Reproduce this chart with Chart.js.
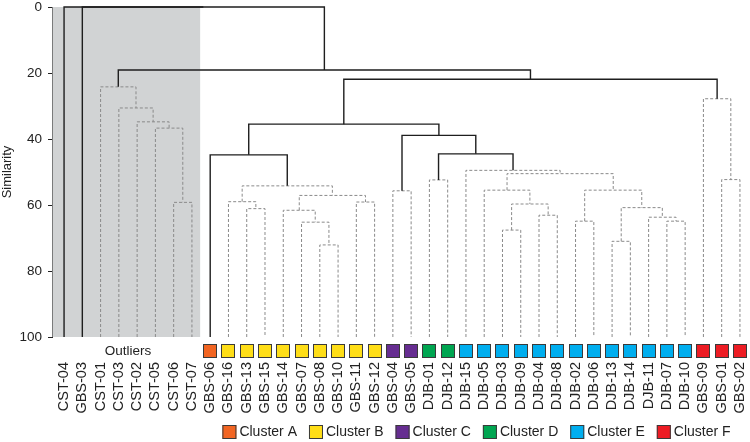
<!DOCTYPE html>
<html><head><meta charset="utf-8">
<script src="https://cdn.jsdelivr.net/npm/chart.js@4"></script>
<style>html,body{margin:0;padding:0;background:#fff;}</style>
</head><body>
<canvas id="c" width="750" height="442"></canvas>
<script>
// ---- data ----
const leafLabels = ['CST-04','GBS-03','CST-01','CST-03','CST-02','CST-05','CST-06','CST-07',
  'GBS-06','GBS-16','GBS-13','GBS-15','GBS-14','GBS-07','GBS-08','GBS-10','GBS-11','GBS-12',
  'GBS-04','GBS-05','DJB-01','DJB-12','DJB-15','DJB-05','DJB-03','DJB-09','DJB-04','DJB-08',
  'DJB-02','DJB-06','DJB-13','DJB-14','DJB-11','DJB-07','DJB-10','GBS-09','GBS-01','GBS-02'];
const leafGroups = ['O','O','O','O','O','O','O','O',
  'A','B','B','B','B','B','B','B','B','B',
  'C','C','D','D','E','E','E','E','E','E',
  'E','E','E','E','E','E','E','F','F','F'];
const clusterKeys = ['A','B','C','D','E','F'];
const clusterNames = ['Cluster A','Cluster B','Cluster C','Cluster D','Cluster E','Cluster F'];
const clusterColors = ['#f26522','#ffde17','#662d91','#00a651','#00aeef','#ed1c24'];
const outlierLabel = 'Outliers';
const axisTitle = 'Similarity';
const yTicks = [0,20,40,60,80,100];

// merges: children refer to leaf index (0..37) or node 38+k
const mergeLeft  = [6, 5,  4,  3,  2, 10, 9, 14, 13, 12, 16, 47, 44, 8, 18, 20, 24, 26, 54, 23, 28, 30, 33, 32, 59, 58, 57, 22, 53, 52, 51, 36, 35, 68, 42, 1, 0];
const mergeRight = [7, 38, 39, 40, 41, 11, 43, 15, 45, 46, 17, 48, 49, 50, 19, 21, 25, 27, 55, 56, 29, 31, 34, 60, 61, 62, 63, 64, 65, 66, 67, 37, 69, 70, 71, 72, 73];
const mergeSim   = [59.2, 36.7, 34.8, 30.6, 24.2, 61.1, 59.0, 72.1, 65.2, 61.6, 59.1, 57.1, 54.2, 44.8, 55.7, 52.4, 67.6, 63.1, 59.7, 55.5, 64.9, 71.0, 64.9, 63.7, 60.8, 55.5, 50.5, 49.5, 44.5, 38.9, 35.5, 52.3, 27.8, 21.9, 19.1, 0, 0];
const mergeSolid = [0,0,0,0,0, 0,0,0,0,0, 0,0,0,1, 0,0,0,0,0, 0,0,0,0,0, 0,0,0,0, 1,1,1, 0,0,1,1,1,1];

// ---- build tree geometry in data units ----
const nodeX = leafLabels.map((_, i) => i);
const nodeH = leafLabels.map(() => 100);
mergeLeft.forEach((a, k) => {
  const b = mergeRight[k];
  nodeX.push((nodeX[a] + nodeX[b]) / 2);
  nodeH.push(mergeSim[k]);
});
const datasets = mergeLeft.map((a, k) => {
  const b = mergeRight[k], h = mergeSim[k], solid = !!mergeSolid[k];
  return {
    data: [{x: nodeX[a], y: nodeH[a]}, {x: nodeX[a], y: h}, {x: nodeX[b], y: h}, {x: nodeX[b], y: nodeH[b]}],
    showLine: true,
    borderColor: solid ? '#1e1e1e' : '#8a8a8a',
    borderWidth: solid ? 1.4 : 1,
    borderDash: solid ? [] : [3, 2],
    borderJoinStyle: 'miter',
    borderCapStyle: 'butt',
    pointRadius: 0, pointHoverRadius: 0,
    fill: false, tension: 0, clip: false,
    order: solid ? 0 : 1
  };
});

const FONT = '"Liberation Sans", Arial, Helvetica, sans-serif';
const lastOutlier = leafGroups.lastIndexOf('O');

const decor = {
  id: 'decor',
  beforeDatasetsDraw(chart) {
    const {ctx, chartArea, scales: {x}} = chart;
    ctx.save();
    ctx.fillStyle = '#d1d3d4';
    const xr = x.getPixelForValue(lastOutlier + 0.45);
    ctx.fillRect(chartArea.left + 0.5, chartArea.top, xr - chartArea.left - 0.5, chartArea.bottom - chartArea.top);
    ctx.restore();
  },
  afterDraw(chart) {
    const {ctx, chartArea, scales: {x}} = chart;
    ctx.save();
    // cluster squares
    const sz = 14, top = chartArea.bottom + 7;
    leafGroups.forEach((g, i) => {
      const ci = clusterKeys.indexOf(g);
      if (ci < 0) return;
      const px = Math.round(x.getPixelForValue(i));
      ctx.fillStyle = clusterColors[ci];
      ctx.fillRect(px - sz / 2, top, sz, sz);
      ctx.strokeStyle = '#3a3a3a';
      ctx.lineWidth = 1;
      ctx.strokeRect(px - sz / 2 + 0.5, top + 0.5, sz - 1, sz - 1);
    });
    // outliers label
    ctx.fillStyle = '#222';
    ctx.font = '13.5px ' + FONT;
    ctx.textAlign = 'center';
    ctx.textBaseline = 'middle';
    ctx.fillText(outlierLabel, x.getPixelForValue(lastOutlier / 2), top + sz / 2);
    // legend
    ctx.font = '14px ' + FONT;
    const widths = clusterNames.map(n => ctx.measureText(n).width);
    const box = 14, gapBT = 3, gapItem = 12;
    const total = widths.reduce((s, w) => s + box + gapBT + w, 0) + gapItem * (clusterNames.length - 1);
    let lx = 476.5 - total / 2;
    const ly = chart.height - 10;
    ctx.textAlign = 'left';
    clusterNames.forEach((n, i) => {
      ctx.fillStyle = clusterColors[i];
      ctx.fillRect(lx, ly - box / 2, box, box);
      ctx.strokeStyle = '#3a3a3a';
      ctx.strokeRect(lx + 0.5, ly - box / 2 + 0.5, box - 1, box - 1);
      ctx.fillStyle = '#222';
      ctx.fillText(n, lx + box + gapBT, ly + 0.5);
      lx += box + gapBT + widths[i] + gapItem;
    });
    ctx.restore();
  }
};

new Chart(document.getElementById('c'), {
  type: 'scatter',
  data: {datasets},
  plugins: [decor],
  options: {
    responsive: false,
    devicePixelRatio: 1,
    animation: false,
    events: [],
    layout: {padding: {top: 7, right: 0, left: 0, bottom: 0}},
    plugins: {legend: {display: false}, tooltip: {enabled: false}},
    scales: {
      x: {
        type: 'linear',
        min: -0.66, max: 37.55,
        afterBuildTicks(scale) { scale.ticks = leafLabels.map((_, i) => ({value: i})); },
        afterFit(scale) { scale.height = 105; scale.paddingLeft = 0; scale.paddingRight = 0; },
        grid: {display: false, drawTicks: false},
        border: {display: false},
        ticks: {
          autoSkip: false, minRotation: 90, maxRotation: 90, padding: 25,
          color: '#222', font: {family: FONT, size: 14.5},
          callback: (v) => leafLabels[v]
        }
      },
      y: {
        type: 'linear',
        reverse: true, min: 0, max: 100,
        afterBuildTicks(scale) { scale.ticks = yTicks.map(v => ({value: v})); },
        afterFit(scale) { scale.width = 52; scale.paddingTop = 0; scale.paddingBottom = 0; },
        grid: {drawOnChartArea: false, drawTicks: true, tickLength: 4, color: '#222', lineWidth: 1},
        border: {display: true, color: '#222', width: 1},
        ticks: {padding: 6, color: '#222', font: {family: FONT, size: 13.5}},
        title: {display: true, text: axisTitle, color: '#222', padding: 0, font: {family: FONT, size: 13}}
      }
    }
  }
});
</script>
</body></html>
